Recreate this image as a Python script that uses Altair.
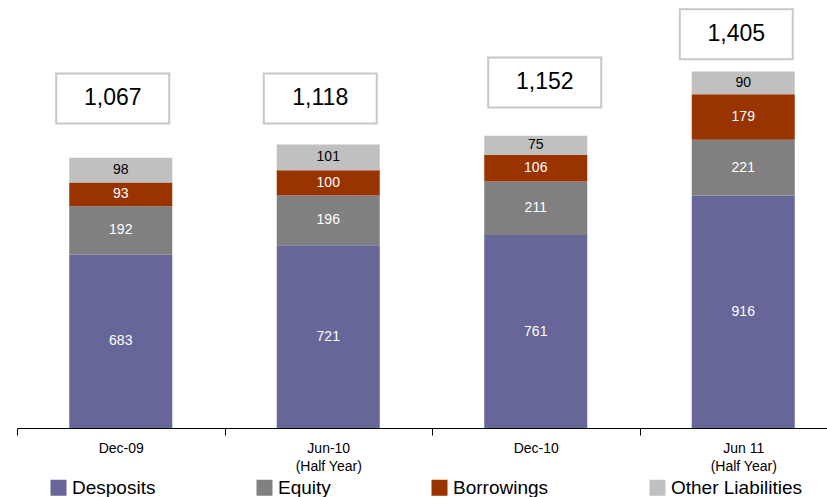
import altair as alt
import pandas as pd

categories = ["Dec-09", "Jun-10 (Half Year)", "Dec-10", "Jun 11 (Half Year)"]
deposits = [683, 721, 761, 916]
equity = [192, 196, 211, 221]
borrowings = [93, 100, 106, 179]
other_liab = [98, 101, 75, 90]
totals = [1067, 1118, 1152, 1405]
# annotation placement for the total boxes (value level and small horizontal nudge)
box_level = [1300, 1300, 1363, 1553]
box_dx = [-8, -8, 9, -7]

series_names = ["Desposits", "Equity", "Borrowings", "Other Liabilities"]
series_vals = [deposits, equity, borrowings, other_liab]
series_colors = ["#666699", "#808080", "#993300", "#C0C0C0"]
text_colors = ["white", "white", "white", "black"]

FONT = "Liberation Sans"

rows = []
for si, (name, vals) in enumerate(zip(series_names, series_vals)):
    for ci, cat in enumerate(categories):
        rows.append({"cat": cat, "series": name, "value": vals[ci], "ord": si,
                     "tc": text_colors[si]})
df = pd.DataFrame(rows)

x_enc = alt.X("cat:N", sort=categories,
              scale=alt.Scale(paddingInner=0, paddingOuter=0, range=[0, 830]),
              axis=alt.Axis(title=None, labelAngle=0, tickBand="extent",
                            domainColor="black", tickColor="black", tickSize=7,
                            labelFont=FONT, labelFontSize=14, labelColor="black",
                            labelPadding=6, labelLineHeight=18,
                            labelExpr="indexof(datum.label, ' (') > 0 ? [split(datum.label, ' (')[0], '(' + split(datum.label, ' (')[1]] : datum.label"))

y_scale = alt.Scale(domain=[0, 1688], nice=False, zero=True)

bars = alt.Chart(df).mark_bar(size=103).encode(
    x=x_enc,
    y=alt.Y("value:Q", stack="zero", scale=y_scale, axis=None),
    color=alt.Color("series:N", sort=series_names,
                    scale=alt.Scale(domain=series_names, range=series_colors),
                    legend=alt.Legend(orient="none", legendX=32, legendY=478,
                                      direction="horizontal", columns=4, title=None,
                                      symbolType="square", symbolSize=256,
                                      symbolStrokeWidth=0, symbolOpacity=1,
                                      labelFont=FONT, labelFontSize=19,
                                      labelColor="black", columnPadding=99,
                                      labelOffset=4, labelLimit=400)),
    order=alt.Order("ord:Q", sort="ascending"),
)

seg_text = alt.Chart(df).transform_stack(
    stack="value", groupby=["cat"], sort=[alt.SortField("ord", order="ascending")],
    as_=["y0", "y1"]
).transform_calculate(
    mid="(datum.y0 + datum.y1) / 2"
).mark_text(font=FONT, fontSize=14, baseline="middle", align="center").encode(
    x=alt.X("cat:N", sort=categories),
    y=alt.Y("mid:Q", scale=y_scale),
    text=alt.Text("value:Q"),
    color=alt.Color("tc:N", scale=None),
)

layers = [bars, seg_text]
box_path = "M-1,-0.4425L1,-0.4425L1,0.4425L-1,0.4425Z"
for ci, cat in enumerate(categories):
    bdf = pd.DataFrame({"cat": [cat], "level": [box_level[ci]],
                        "label": [f"{totals[ci]:,}"]})
    box = alt.Chart(bdf).mark_point(
        shape=box_path, size=113 * 113, filled=True, fill="white",
        stroke="#C8C8C8", strokeWidth=2, opacity=1, xOffset=box_dx[ci]
    ).encode(x=alt.X("cat:N", sort=categories), y=alt.Y("level:Q", scale=y_scale))
    txt = alt.Chart(bdf).mark_text(
        font=FONT, fontSize=23, color="black", baseline="middle", align="center",
        dx=box_dx[ci]
    ).encode(x=alt.X("cat:N", sort=categories), y=alt.Y("level:Q", scale=y_scale),
             text="label:N")
    layers += [box, txt]

chart = alt.layer(*layers).properties(
    width=810, height=428,
    padding={"left": 17, "top": 0, "right": 0, "bottom": 69},
    autosize=alt.AutoSizeParams(type="none"),
    background="white",
).configure_view(stroke=None)

chart.save("out.html", embed_options={"renderer": "svg", "actions": False})
